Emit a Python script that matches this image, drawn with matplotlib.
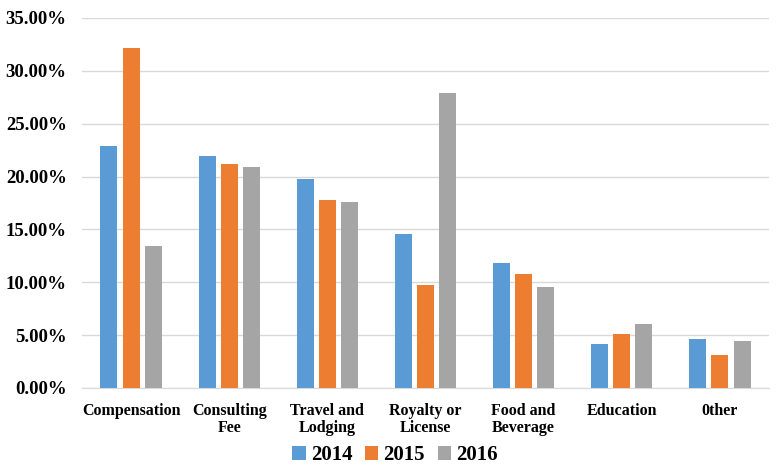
import numpy as np
import matplotlib
matplotlib.use("Agg")
import matplotlib.pyplot as plt
from matplotlib.ticker import FuncFormatter

plt.rcParams["font.family"] = ["Liberation Serif", "DejaVu Serif"]
plt.rcParams["font.weight"] = "bold"

categories = ["Compensation", "Consulting\nFee", "Travel and\nLodging", "Royalty or\nLicense",
              "Food and\nBeverage", "Education", "0ther"]
years = ["2014", "2015", "2016"]
vals_2014 = [22.86, 21.98, 19.80, 14.57, 11.79, 4.19, 4.60]
vals_2015 = [32.17, 21.22, 17.80, 9.71, 10.81, 5.10, 3.08]
vals_2016 = [13.46, 20.90, 17.56, 27.90, 9.58, 6.05, 4.47]
colors = ["#5B9BD5", "#ED7D31", "#A5A5A5"]

fig = plt.figure(figsize=(7.79, 4.70), dpi=100)
ax = fig.add_axes([82 / 779, 1 - 388 / 470, (769 - 82) / 779, 370 / 470])

x = np.arange(len(categories))
w = 0.173
step = 0.225
for i, (vals, lab) in enumerate(zip([vals_2014, vals_2015, vals_2016], years)):
    ax.bar(x + (i - 1) * step, vals, width=w, color=colors[i], label=lab, zorder=3)

ax.set_xlim(-0.5, len(categories) - 0.5)
ax.set_ylim(0, 35)
ax.set_yticks(np.arange(0, 36, 5))
ax.yaxis.set_major_formatter(FuncFormatter(lambda v, p: f"{v:.2f}%"))
ax.grid(axis="y", color="#D9D9D9", lw=1, zorder=0)
for s in ["top", "right", "left"]:
    ax.spines[s].set_visible(False)
ax.spines["bottom"].set_color("#D9D9D9")
ax.tick_params(axis="both", length=0)
ax.tick_params(axis="y", labelsize=13.5, pad=11)
ax.set_xticks(x)
ax.set_xticklabels(categories, fontsize=11.5, fontweight="bold", linespacing=1.1)
ax.tick_params(axis="x", pad=11)
for t in ax.get_yticklabels():
    t.set_fontweight("bold")

fig.legend(loc="center", bbox_to_anchor=(395 / 779, 1 - 455 / 470), ncol=3, frameon=False,
           prop={"size": 15, "weight": "bold"}, handlelength=0.65, handleheight=0.65,
           handletextpad=0.25, columnspacing=0.6)

fig.savefig("out.png", dpi=100)
